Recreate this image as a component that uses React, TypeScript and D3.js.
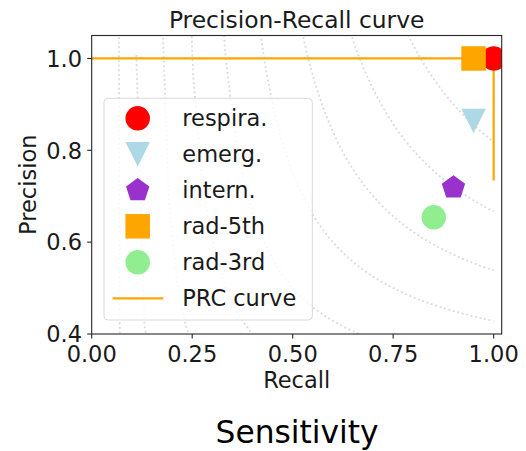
import React from "react";
import * as d3 from "d3";

const X_TICKS = [0, 0.25, 0.5, 0.75, 1.0];
const X_TICK_LABELS = ["0.00", "0.25", "0.50", "0.75", "1.00"];
const Y_TICKS = [0.4, 0.6, 0.8, 1.0];
const Y_TICK_LABELS = ["0.4", "0.6", "0.8", "1.0"];

const F_SCORES = [0.1, 0.2, 0.3, 0.4, 0.5, 0.6, 0.7, 0.8, 0.9];

const PRC_RECALL = [0.0, 0.982, 0.982, 1.0, 1.0];
const PRC_PRECISION = [1.0, 1.0, 0.981, 0.981, 0.734];

const NAMES = ["respira.", "emerg.", "intern.", "rad-5th", "rad-3rd"];
const RECALLS = [1.0, 0.95, 0.9, 0.95, 0.851];
const PRECISIONS = [1.0, 0.864, 0.719, 1.0, 0.654];
const SHAPES = ["circle", "triangle-down", "pentagon", "square", "circle"];
const COLORS = ["#ff0000", "#add8e6", "#9932cc", "#ffa500", "#90ee90"];

const W = 526;
const H = 451;
const FONT = "DejaVu Sans, Liberation Sans, sans-serif";
const FS = 22.5;
const MS = 24.5;

function markerPath(shape: string, cx: number, cy: number, ms: number): string {
  const r = ms / 2;
  if (shape === "circle") {
    return `M${cx - r},${cy}a${r},${r} 0 1,0 ${ms},0a${r},${r} 0 1,0 ${-ms},0Z`;
  }
  if (shape === "square") {
    return `M${cx - r},${cy - r}h${ms}v${ms}h${-ms}Z`;
  }
  if (shape === "triangle-down") {
    return `M${cx},${cy + r}L${cx - r},${cy - r}L${cx + r},${cy - r}Z`;
  }
  const pts: string[] = [];
  for (let i = 0; i < 5; i++) {
    const a = -Math.PI / 2 + (i * 2 * Math.PI) / 5;
    pts.push(`${cx + r * Math.cos(a)},${cy + r * Math.sin(a)}`);
  }
  return `M${pts.join("L")}Z`;
}

export default function App() {
  const x = d3.scaleLinear().domain([0, 1.02]).range([91.7, 501.7]);
  const y = d3.scaleLinear().domain([0.4, 1.05]).range([334, 35.5]);
  const [x0, x1] = x.range();
  const [yb, yt] = y.range();

  const line = d3
    .line<[number, number]>()
    .x((d) => x(d[0]))
    .y((d) => y(d[1]));

  const isoX = d3.range(50).map((i) => 0.01 + (i * 0.99) / 49);
  const isoCurves = F_SCORES.map((f) => {
    const pts: [number, number][] = [];
    isoX.forEach((xv) => {
      const yv = (f * xv) / (2 * xv - f);
      if (yv >= 0) pts.push([xv, yv]);
    });
    return pts;
  });

  const prc: [number, number][] = PRC_RECALL.map((r, i) => [r, PRC_PRECISION[i]]);

  const legX = 104;
  const legY = 98.3;
  const legW = 208.3;
  const legH = 221.7;
  const rowY0 = 118.3;
  const rowStep = 36;
  const legMarkerX = 137.7;
  const legTextX = 182.3;

  return (
    <svg
      width={W}
      height={H}
      style={{ position: "absolute", left: 0, top: 0, background: "#fff" }}
      fontFamily={FONT}
    >
      <rect x={0} y={0} width={W} height={H} fill="#fff" />
      <defs>
        <clipPath id="axclip">
          <rect x={x0} y={yt} width={x1 - x0} height={yb - yt} />
        </clipPath>
      </defs>

      <g clipPath="url(#axclip)">
        {isoCurves.map((pts, i) => (
          <path
            key={i}
            d={line(pts) || ""}
            fill="none"
            stroke="#808080"
            strokeOpacity={0.3}
            strokeWidth={1.8}
            strokeDasharray="1.8,2.8"
          />
        ))}
        <path d={line(prc) || ""} fill="none" stroke="#ffa500" strokeWidth={2.2} />
        {NAMES.map((n, i) => (
          <path
            key={n}
            d={markerPath(SHAPES[i], x(RECALLS[i]), y(PRECISIONS[i]), MS)}
            fill={COLORS[i]}
          />
        ))}
      </g>

      <rect
        x={legX}
        y={legY}
        width={legW}
        height={legH}
        rx={4}
        fill="#fff"
        fillOpacity={0.8}
        stroke="#d9d9d9"
        strokeWidth={1}
      />
      {NAMES.map((n, i) => (
        <g key={n}>
          <path
            d={markerPath(SHAPES[i], legMarkerX, rowY0 + i * rowStep, MS)}
            fill={COLORS[i]}
          />
          <text
            x={legTextX}
            y={rowY0 + i * rowStep}
            dy="0.36em"
            fontSize={FS}
            fill="#1a1a1a"
          >
            {n}
          </text>
        </g>
      ))}
      <line
        x1={112.7}
        x2={163.3}
        y1={rowY0 + 5 * rowStep}
        y2={rowY0 + 5 * rowStep}
        stroke="#ffa500"
        strokeWidth={2.2}
      />
      <text
        x={legTextX}
        y={rowY0 + 5 * rowStep}
        dy="0.36em"
        fontSize={FS}
        fill="#1a1a1a"
      >
        PRC curve
      </text>

      <rect
        x={x0}
        y={yt}
        width={x1 - x0}
        height={yb - yt}
        fill="none"
        stroke="#262626"
        strokeWidth={1.1}
      />

      {X_TICKS.map((t, i) => (
        <g key={t}>
          <line x1={x(t)} x2={x(t)} y1={yb} y2={yb + 4.5} stroke="#262626" strokeWidth={1.1} />
          <text x={x(t)} y={361.7} textAnchor="middle" fontSize={FS} fill="#1a1a1a">
            {X_TICK_LABELS[i]}
          </text>
        </g>
      ))}

      {Y_TICKS.map((t, i) => (
        <g key={t}>
          <line x1={x0 - 4.5} x2={x0} y1={y(t)} y2={y(t)} stroke="#262626" strokeWidth={1.1} />
          <text x={82} y={y(t)} dy="0.365em" textAnchor="end" fontSize={FS} fill="#1a1a1a">
            {Y_TICK_LABELS[i]}
          </text>
        </g>
      ))}

      <text x={(x0 + x1) / 2} y={27.5} textAnchor="middle" fontSize={23.4} fill="#1a1a1a">
        Precision-Recall curve
      </text>
      <text x={(x0 + x1) / 2} y={388.3} textAnchor="middle" fontSize={FS} fill="#1a1a1a">
        Recall
      </text>
      <text
        transform={`translate(36,${(yb + yt) / 2}) rotate(-90)`}
        textAnchor="middle"
        fontSize={FS}
        fill="#1a1a1a"
      >
        Precision
      </text>
      <text x={297} y={443.3} textAnchor="middle" fontSize={31.3} fill="#000">
        Sensitivity
      </text>
    </svg>
  );
}
